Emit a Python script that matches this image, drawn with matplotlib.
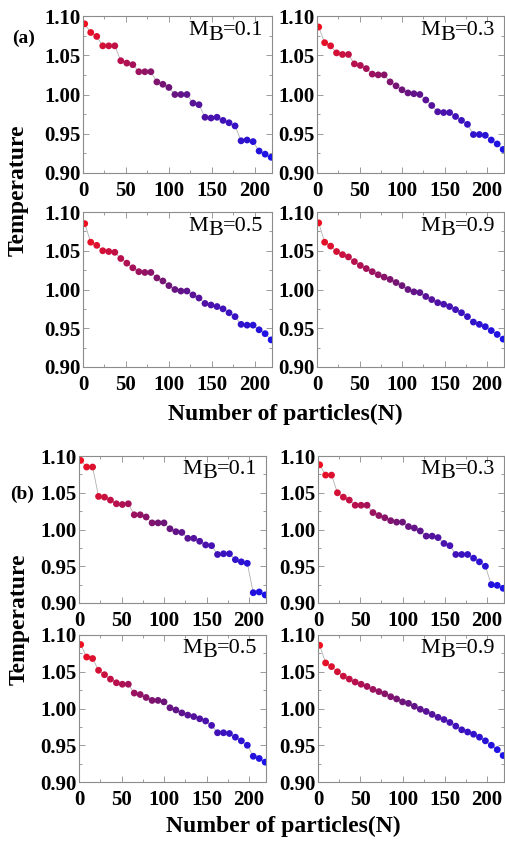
import matplotlib
matplotlib.use("Agg")
import matplotlib.pyplot as plt
import numpy as np
from matplotlib.colors import LinearSegmentedColormap
from matplotlib.ticker import MultipleLocator, FormatStrFormatter

plt.rcParams["font.family"] = ["Liberation Serif", "DejaVu Serif"]
plt.rcParams["font.weight"] = "bold"

# particle index of each marker
n_part = [2, 9, 16, 23, 30, 37, 44, 51, 58, 65, 72, 79, 86, 93, 100, 107,
          114, 121, 128, 135, 142, 149, 156, 163, 170, 177, 184, 191, 198, 205, 212, 219]

# (a) temperatures
a_mb01 = [1.090, 1.079, 1.074, 1.062, 1.062, 1.062, 1.043, 1.040, 1.038, 1.029, 1.029, 1.029,
          1.016, 1.013, 1.009, 1.000, 1.000, 1.000, 0.989, 0.987, 0.971, 0.970, 0.971, 0.967,
          0.964, 0.960, 0.941, 0.942, 0.940, 0.928, 0.924, 0.920]
a_mb03 = [1.086, 1.066, 1.062, 1.053, 1.051, 1.051, 1.039, 1.037, 1.033, 1.026, 1.025, 1.025,
          1.016, 1.011, 1.006, 1.002, 1.001, 1.000, 0.993, 0.986, 0.978, 0.977, 0.977, 0.972,
          0.967, 0.962, 0.949, 0.949, 0.948, 0.942, 0.937, 0.930]
a_mb05 = [1.085, 1.061, 1.057, 1.050, 1.049, 1.048, 1.040, 1.034, 1.028, 1.023, 1.022, 1.022,
          1.015, 1.011, 1.005, 1.000, 0.998, 0.998, 0.993, 0.989, 0.982, 0.980, 0.978, 0.975,
          0.970, 0.965, 0.955, 0.954, 0.954, 0.948, 0.943, 0.935]
a_mb09 = [1.086, 1.061, 1.056, 1.049, 1.045, 1.042, 1.036, 1.031, 1.027, 1.023, 1.019, 1.016,
          1.013, 1.009, 1.005, 1.000, 0.997, 0.996, 0.991, 0.987, 0.983, 0.981, 0.978, 0.974,
          0.970, 0.965, 0.958, 0.955, 0.952, 0.947, 0.942, 0.936]

# (b) temperatures
b_mb01 = [1.094, 1.085, 1.085, 1.045, 1.044, 1.040, 1.035, 1.034, 1.035, 1.020, 1.020, 1.017,
          1.009, 1.009, 1.009, 1.001, 0.997, 0.996, 0.988, 0.988, 0.984, 0.979, 0.978, 0.966,
          0.967, 0.967, 0.959, 0.956, 0.954, 0.914, 0.915, 0.911]
b_mb03 = [1.088, 1.074, 1.074, 1.050, 1.044, 1.040, 1.033, 1.033, 1.033, 1.023, 1.019, 1.016,
          1.012, 1.010, 1.010, 1.004, 1.002, 0.998, 0.991, 0.991, 0.989, 0.981, 0.978, 0.966,
          0.966, 0.966, 0.961, 0.956, 0.950, 0.925, 0.924, 0.920]
b_mb05 = [1.087, 1.070, 1.068, 1.052, 1.046, 1.040, 1.035, 1.033, 1.033, 1.021, 1.019, 1.015,
          1.011, 1.011, 1.009, 1.001, 0.998, 0.994, 0.991, 0.989, 0.986, 0.983, 0.977, 0.967,
          0.967, 0.966, 0.961, 0.956, 0.950, 0.935, 0.932, 0.927]
b_mb09 = [1.086, 1.062, 1.057, 1.050, 1.044, 1.040, 1.036, 1.033, 1.030, 1.026, 1.023, 1.020,
          1.016, 1.013, 1.009, 1.007, 1.003, 0.999, 0.996, 0.992, 0.988, 0.985, 0.981, 0.976,
          0.971, 0.968, 0.965, 0.961, 0.956, 0.950, 0.944, 0.936]

mb_labels = ["0.1", "0.3", "0.5", "0.9"]

W, H = 505, 841
fig = plt.figure(figsize=(W / 100, H / 100), dpi=100)
cmap = LinearSegmentedColormap.from_list(
    "rb", [(0.0, "#f0101e"), (0.2, "#b8104e"), (0.45, "#6e1478"), (0.7, "#4812b0"), (1.0, "#1a12e8")])
FRAME = "#8c8c8c"


def rect(l, t, r, b):
    return [l / W, 1 - b / H, (r - l) / W, (b - t) / H]


def mb_label(ax, val):
    t3 = ax.text(0.955, 0.845, "=" + val, transform=ax.transAxes, ha="right",
                 va="bottom", fontsize=16, fontweight="normal")
    t2 = ax.annotate("B", xy=(0, 0), xycoords=t3, xytext=(0, -3), textcoords="offset points",
                     ha="right", va="bottom", fontsize=16, fontweight="normal")
    ax.annotate("M", xy=(0, 0), xycoords=t2, xytext=(0, 3), textcoords="offset points",
                ha="right", va="bottom", fontsize=16, fontweight="normal")


def panel(box, temps, mb):
    ax = fig.add_axes(rect(*box))
    ax.plot(n_part, temps, color="#b0b0b0", lw=0.6, zorder=1)
    ax.scatter(n_part, temps, c=n_part, cmap=cmap, vmin=0, vmax=219, s=24,
               linewidths=0, zorder=2)
    ax.set_xlim(0, 220)
    ax.set_ylim(0.90, 1.10)
    ax.xaxis.set_major_locator(MultipleLocator(50))
    ax.xaxis.set_minor_locator(MultipleLocator(25))
    ax.yaxis.set_major_locator(MultipleLocator(0.05))
    ax.yaxis.set_minor_locator(MultipleLocator(0.025))
    ax.yaxis.set_major_formatter(FormatStrFormatter("%.2f"))
    ax.tick_params(which="both", direction="in", top=True, right=True, color=FRAME,
                   width=0.6, labelsize=15)
    ax.tick_params(which="major", length=4)
    ax.tick_params(which="minor", length=2.5)
    ax.tick_params(axis="x", pad=6)
    ax.tick_params(axis="y", pad=2)
    for s in ax.spines.values():
        s.set_color(FRAME)
        s.set_linewidth(0.8)
    mb_label(ax, mb)
    return ax


boxes_a = [(83, 16, 272, 173), (317, 16, 504, 173), (83, 212, 272, 367), (317, 212, 504, 367)]
boxes_b = [(79, 456, 266, 603), (318, 456, 504, 603), (79, 635, 266, 782), (318, 635, 504, 782)]

for box, temps, mb in zip(boxes_a, [a_mb01, a_mb03, a_mb05, a_mb09], mb_labels):
    panel(box, temps, mb)
for box, temps, mb in zip(boxes_b, [b_mb01, b_mb03, b_mb05, b_mb09], mb_labels):
    panel(box, temps, mb)

fig.text(24 / W, 1 - 38 / H, "(a)", ha="center", va="center", fontsize=14)
fig.text(22 / W, 1 - 494 / H, "(b)", ha="center", va="center", fontsize=14)
fig.text(18 / W, 1 - 190 / H, "Temperature", rotation=90, ha="center", va="center", fontsize=17)
fig.text(19 / W, 1 - 619 / H, "Temperature", rotation=90, ha="center", va="center", fontsize=17)
fig.text(285 / W, 1 - 414 / H, "Number of particles(N)", ha="center", va="center", fontsize=17)
fig.text(283 / W, 1 - 826 / H, "Number of particles(N)", ha="center", va="center", fontsize=17)

fig.savefig("out.png", dpi=100, facecolor="white")
plt.close(fig)
